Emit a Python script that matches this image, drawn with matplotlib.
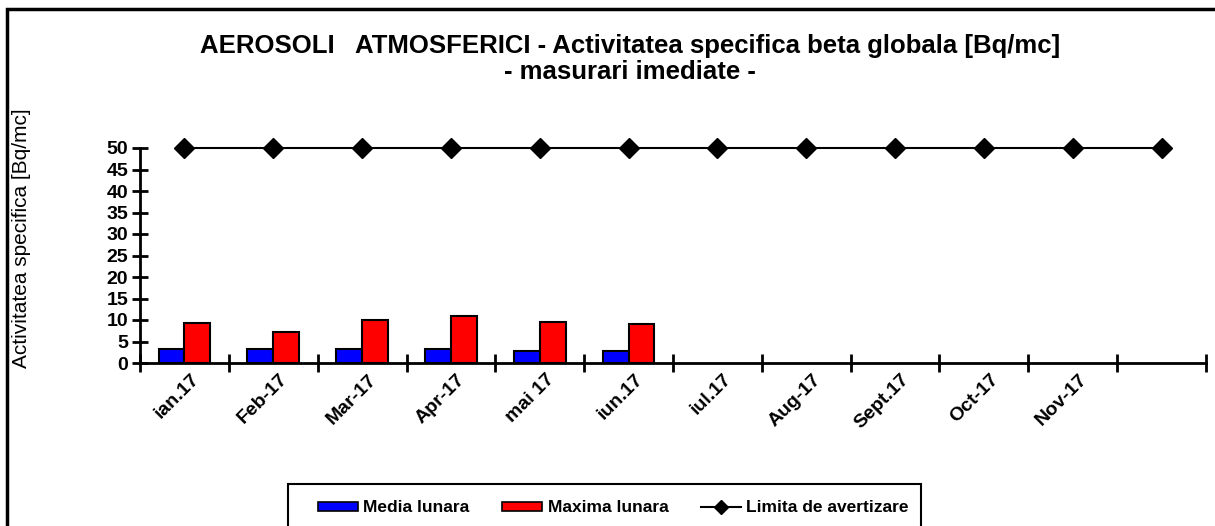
import numpy as np
import matplotlib
matplotlib.use('Agg')
import matplotlib.pyplot as plt
from matplotlib.patches import Patch, Rectangle
from matplotlib.lines import Line2D

# ------------------------------------------------------------------------------
# Data
luni = ['ian.17', 'Feb-17', 'Mar-17', 'Apr-17', 'mai 17', 'iun.17',
        'iul.17', 'Aug-17', 'Sept.17', 'Oct-17', 'Nov-17', '']
media_lunara = [3.2, 3.2, 3.2, 3.2, 2.8, 2.8]
maxima_lunara = [9.2, 7.3, 10.0, 10.9, 9.5, 9.1]
limita = [50] * 12
y_ticks = [0, 5, 10, 15, 20, 25, 30, 35, 40, 45, 50]

plt.rcParams['font.family'] = ['Liberation Sans', 'DejaVu Sans']

W, H = 1215, 526
fig = plt.figure(figsize=(W / 100, H / 100), dpi=100)

# axes box in pixels
ax_l, ax_r, ax_b, ax_t = 140, 1206, 363, 148
ax = fig.add_axes([ax_l / W, 1 - ax_b / H, (ax_r - ax_l) / W, (ax_b - ax_t) / H])

x = np.arange(len(luni))
w = 0.29
n = len(media_lunara)
ax.bar(x[:n] - w / 2, media_lunara, w, color='#0000ff', edgecolor='black', linewidth=1.5, zorder=3)
ax.bar(x[:n] + w / 2, maxima_lunara, w, color='#ff0000', edgecolor='black', linewidth=1.5, zorder=3)
ax.plot(x, limita, color='black', linewidth=1.5, marker='D', markersize=10, clip_on=False, zorder=4)

ax.set_xlim(-0.5, len(luni) - 0.5)
ax.set_ylim(0, 50)

for s in ['top', 'right']:
    ax.spines[s].set_visible(False)
for s in ['left', 'bottom']:
    ax.spines[s].set_linewidth(2)

ax.set_yticks(y_ticks)
ax.tick_params(axis='y', direction='inout', length=11, width=2, labelsize=14, pad=3)
for t in ax.get_yticklabels():
    t.set_fontweight('bold')

# category boundaries as ticks, month labels placed under each category
ax.set_xticks(np.arange(-0.5, len(luni), 1.0))
ax.set_xticklabels([])
ax.tick_params(axis='x', direction='inout', length=13, width=2)
for i, lab in enumerate(luni):
    ax.annotate(lab, xy=(x[i], 0), xycoords=ax.get_xaxis_transform(),
                xytext=(8.5, -10), textcoords='offset points',
                rotation=45, ha='right', va='center', rotation_mode='anchor',
                fontsize=14, fontweight='bold', annotation_clip=False)

fig.text(22 / W, 1 - 238 / H, 'Activitatea specifica [Bq/mc]', rotation=90,
         ha='center', va='center', fontsize=15)

fig.text(630 / W, 1 - 46 / H,
         'AEROSOLI   ATMOSFERICI - Activitatea specifica beta globala [Bq/mc]',
         ha='center', va='center', fontsize=18.5, fontweight='bold')
fig.text(630 / W, 1 - 72 / H, '- masurari imediate -',
         ha='center', va='center', fontsize=18.5, fontweight='bold')

# outer chart frame (only left and top edges visible)
fig.patches.append(Rectangle((7 / W, -0.2), 1.3, 1 - 9 / H + 0.2, transform=fig.transFigure,
                             fill=False, edgecolor='black', linewidth=2.5, clip_on=False))

# legend
leg_l, leg_t = 288, 484
handles = [Patch(facecolor='#0000ff', edgecolor='black', linewidth=1.2),
           Patch(facecolor='#ff0000', edgecolor='black', linewidth=1.2),
           Line2D([], [], color='black', linewidth=1.5, marker='D', markersize=7)]
leg = fig.legend(handles, ['Media lunara', 'Maxima lunara', 'Limita de avertizare'],
                 loc='center left', bbox_to_anchor=(318 / W, 1 - 508 / H),
                 ncol=3, frameon=False, prop={'size': 12.5, 'weight': 'bold'},
                 borderpad=0, borderaxespad=0,
                 handlelength=2.3, handleheight=0.45, columnspacing=1.9, handletextpad=0.3)
fig.canvas.draw()
leg_r = leg.get_window_extent().x1 + 12
fig.patches.append(Rectangle((leg_l / W, -0.2), (leg_r - leg_l) / W, 1 - leg_t / H + 0.2,
                             transform=fig.transFigure, fill=False, edgecolor='black',
                             linewidth=1.5, clip_on=False))

fig.savefig('out.png', dpi=100)
